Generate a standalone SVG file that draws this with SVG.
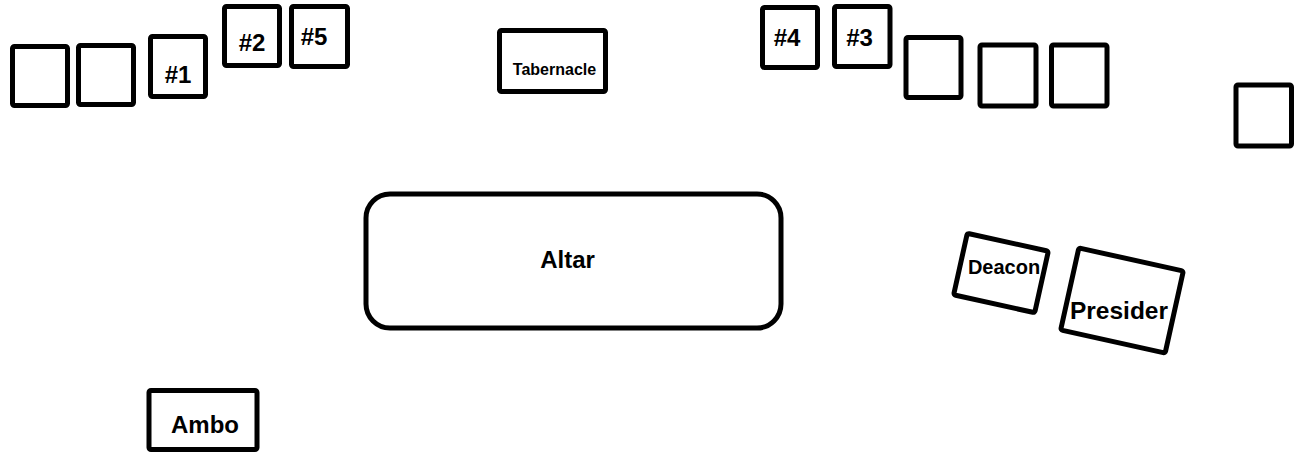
<svg xmlns="http://www.w3.org/2000/svg" width="1298" height="452" viewBox="0 0 1298 452">
  <style>
    .box { fill: #ffffff; stroke: #000000; stroke-width: 5; stroke-linejoin: round; }
    .lbl { font-family: "Liberation Sans", Arial, sans-serif; font-weight: bold; fill: #000000; text-anchor: middle; }
    .big { font-size: 24px; }
    .small { font-size: 16px; }
  </style>
  <rect width="1298" height="452" fill="#ffffff"/>

  <!-- Left row of chairs -->
  <g id="chair-left-1"><rect class="box" x="12.5" y="46.5" width="55" height="59" rx="2"/></g>
  <g id="chair-left-2"><rect class="box" x="78.5" y="45.5" width="55" height="59" rx="2"/></g>
  <g id="seat-1">
    <rect class="box" x="150.5" y="36.5" width="55" height="60" rx="2"/>
    <text class="lbl big" x="178" y="83">#1</text>
  </g>
  <g id="seat-2">
    <rect class="box" x="224.5" y="6.5" width="55" height="59" rx="2"/>
    <text class="lbl big" x="252" y="51">#2</text>
  </g>
  <g id="seat-5">
    <rect class="box" x="291.5" y="6.5" width="56" height="60" rx="2"/>
    <text class="lbl big" x="314" y="45">#5</text>
  </g>

  <!-- Tabernacle -->
  <g id="tabernacle">
    <rect class="box" x="499.5" y="30.5" width="106" height="61" rx="2"/>
    <text class="lbl small" x="554.5" y="75">Tabernacle</text>
  </g>

  <!-- Right row of chairs -->
  <g id="seat-4">
    <rect class="box" x="762.5" y="7.5" width="55" height="60" rx="2"/>
    <text class="lbl big" x="787" y="46">#4</text>
  </g>
  <g id="seat-3">
    <rect class="box" x="834.5" y="6.5" width="55.5" height="60" rx="2"/>
    <text class="lbl big" x="859.5" y="46">#3</text>
  </g>
  <g id="chair-right-1"><rect class="box" x="906" y="37.5" width="55" height="60" rx="2"/></g>
  <g id="chair-right-2"><rect class="box" x="980" y="45" width="56" height="61" rx="2"/></g>
  <g id="chair-right-3"><rect class="box" x="1051.5" y="45" width="55.5" height="61" rx="2"/></g>
  <g id="chair-far-right"><rect class="box" x="1236" y="85" width="55.5" height="61" rx="2"/></g>

  <!-- Altar -->
  <g id="altar">
    <rect class="box" x="366" y="194" width="415" height="134" rx="24" stroke-width="4.5"/>
    <text class="lbl big" x="567.5" y="268">Altar</text>
  </g>

  <!-- Deacon and presider chairs, angled -->
  <g id="deacon">
    <rect class="box" x="959.5" y="241.5" width="83" height="63" rx="2" transform="rotate(12.5 1001 273)"/>
    <text class="lbl" font-size="20" x="1004" y="274">Deacon</text>
  </g>
  <g id="presider">
    <rect class="box" x="1068.5" y="258.5" width="107" height="84" rx="2" transform="rotate(12.5 1122 300.5)"/>
    <text class="lbl" font-size="24.5" x="1119" y="319">Presider</text>
  </g>

  <!-- Ambo -->
  <g id="ambo">
    <rect class="box" x="149" y="390.5" width="108" height="59" rx="2"/>
    <text class="lbl big" x="205" y="433">Ambo</text>
  </g>

  <g id="connectors"></g>
</svg>
